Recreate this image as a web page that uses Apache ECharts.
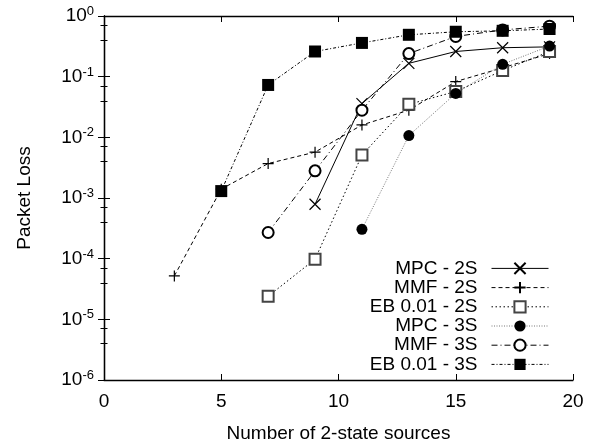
<!DOCTYPE html>
<html><head><meta charset="utf-8">
<script src="https://cdn.jsdelivr.net/npm/echarts@6/dist/echarts.min.js"></script>
<style>html,body{margin:0;padding:0;background:#fff}#c{width:597px;height:442px}</style>
</head><body><div id="c"></div>
<script>
const seriesNames = ['MPC - 2S','MMF - 2S','EB 0.01 - 2S','MPC - 3S','MMF - 3S','EB 0.01 - 3S'];
const xMPC2S = [9,11,13,15,17,19];
const yMPC2S = [7.9e-4,0.036,0.166,0.26,0.30,0.31];
const xMMF2S = [3,5,7,9,11,13,15,17,19];
const yMMF2S = [5.2e-5,1.4e-3,3.7e-3,5.7e-3,0.016,0.028,0.083,0.14,0.24];
const xEB2S = [7,9,11,13,15,17,19];
const yEB2S = [2.4e-5,9.8e-5,5.1e-3,0.035,0.057,0.126,0.26];
const xMPC3S = [11,13,15,17,19];
const yMPC3S = [3.05e-4,0.0107,0.053,0.16,0.32];
const xMMF3S = [7,9,11,13,15,17,19];
const yMMF3S = [2.7e-4,2.8e-3,0.028,0.24,0.46,0.59,0.68];
const xEB3S = [5,7,9,11,13,15,17,19];
const yEB3S = [1.3e-3,0.073,0.26,0.36,0.49,0.55,0.57,0.61];
const xTicks = [0,5,10,15,20];

const zip = (xs, ys) => xs.map((x,i)=>[x, ys[i]]);
const FONT = 'Liberation Sans';
const chart = echarts.init(document.getElementById('c'), null, {renderer:'canvas'});

const axisLineStyle = {color:'#000', width:1.3};
function yAxisBase(showLabel){
  return {
    type:'log', logBase:10, min:1e-6, max:1, splitNumber:6,
    axisLine:{show:true, lineStyle:axisLineStyle},
    axisTick:{show:true, inside:true, length:6, lineStyle:{color:'#000', width:1}},
    minorTick:{show:true, splitNumber:3, length:3.5, lineStyle:{color:'#000', width:1}},
    splitLine:{show:false}, minorSplitLine:{show:false},
    axisLabel:{show:showLabel, margin:10, color:'#000', fontFamily:FONT,
      formatter:function(v){ const e = Math.round(Math.log10(v)); return '{b|10}{s|'+e+'}'; },
      rich:{ b:{fontSize:19, fontFamily:FONT, color:'#000', lineHeight:22},
             s:{fontSize:13, fontFamily:FONT, color:'#000', verticalAlign:'top', lineHeight:14} } }
  };
}
function xAxisBase(showLabel, pos){
  return {
    type:'value', min:0, max:20, interval:5, position:pos,
    axisLine:{show:true, onZero:false, lineStyle:axisLineStyle},
    axisTick:{show:true, inside:true, length:6, lineStyle:{color:'#000', width:1}},
    splitLine:{show:false},
    axisLabel:{show:showLabel, margin:12, fontSize:19, fontFamily:FONT, color:'#000',
      formatter:function(v){ return xTicks.indexOf(v) >= 0 ? String(v) : ''; } }
  };
}

const xA = xAxisBase(true,'bottom');
xA.name = 'Number of 2-state sources';
xA.nameLocation = 'middle';
xA.nameGap = 44;
xA.nameTextStyle = {fontSize:19, fontFamily:FONT, color:'#000'};
const xB = xAxisBase(false,'top');
const yA = yAxisBase(true);
yA.position = 'left';
yA.name = 'Packet Loss';
yA.nameLocation = 'middle';
yA.nameGap = 70;
yA.nameTextStyle = {fontSize:19, fontFamily:FONT, color:'#000'};
const yB = yAxisBase(false);
yB.position = 'right';

const X_PATH = 'path://M0,0L10,10M10,0L0,10';
const PLUS_PATH = 'path://M5,0L5,10M0,5L10,5';

function mk(name, data, symbol, size, lineType, lineColor, itemStyle){
  return {
    name, type:'line', data, symbol, symbolSize:size, xAxisIndex:0, yAxisIndex:0,
    lineStyle:{color:lineColor, width:1, type:lineType},
    itemStyle, emphasis:{disabled:true}, z:2
  };
}

const option = {
  animation:false,
  backgroundColor:'#fff',
  grid:{left:104, right:24, top:16, bottom:62, containLabel:false, outerBoundsMode:'none'},
  xAxis:[xA, xB],
  yAxis:[yA, yB],
  legend:{
    orient:'vertical', right:43, bottom:63, align:'right', selectedMode:false,
    itemWidth:57, itemHeight:14, itemGap:0,
    lineStyle:{width:1},
    textStyle:{fontSize:19, fontFamily:FONT, color:'#000', lineHeight:19.2, padding:[0,9,0,0]},
    data:seriesNames
  },
  series:[
    mk(seriesNames[0], zip(xMPC2S,yMPC2S), X_PATH, 11, 'solid', '#000', {color:'#000', borderColor:'#000', borderWidth:1.2}),
    mk(seriesNames[1], zip(xMMF2S,yMMF2S), PLUS_PATH, 11, [4,3], '#000', {color:'#000', borderColor:'#000', borderWidth:1.2}),
    mk(seriesNames[2], zip(xEB2S,yEB2S), 'emptyRect', 11, [1.5,2.5], '#000', {color:'#444', borderColor:'#444', borderWidth:1.2}),
    mk(seriesNames[3], zip(xMPC3S,yMPC3S), 'circle', 11, [1,1.5], '#777', {color:'#000', borderColor:'#000', borderWidth:0}),
    mk(seriesNames[4], zip(xMMF3S,yMMF3S), 'emptyCircle', 11, [6,3,1,3], '#000', {color:'#000', borderColor:'#000', borderWidth:1}),
    mk(seriesNames[5], zip(xEB3S,yEB3S), 'rect', 12, [3,2,1,2], '#000', {color:'#000', borderColor:'#000', borderWidth:0})
  ]
};
chart.setOption(option);
</script></body></html>
